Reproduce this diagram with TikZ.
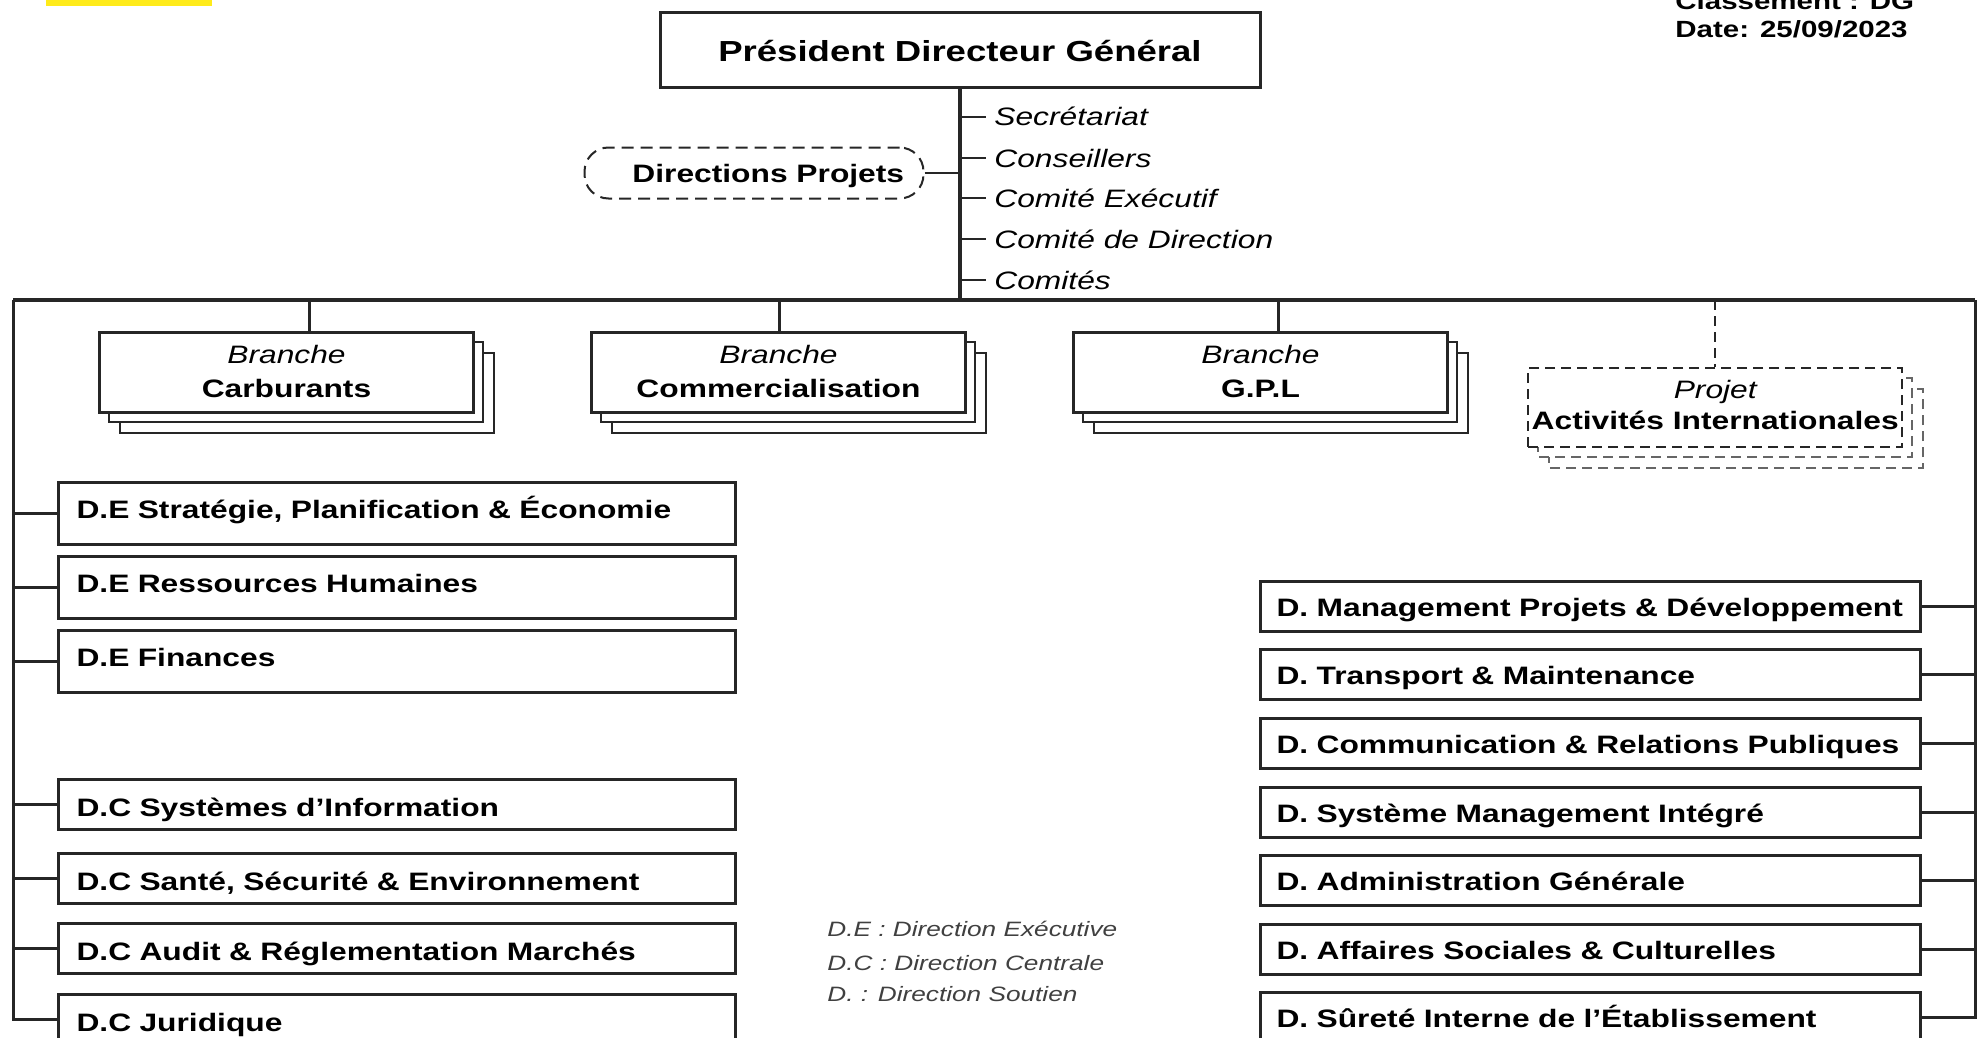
\documentclass[tikz,border=0pt]{standalone}
\usepackage{fontspec}
\setmainfont{Liberation Sans}[FakeStretch=1.26]
\usetikzlibrary{calc}

\colorlet{ink}{black!85}
\definecolor{markyellow}{RGB}{255,235,26}

\newcommand\boxfont{\fontsize{12.6pt}{15pt}\selectfont\bfseries}
\newcommand\lblfont{\fontsize{12.6pt}{15pt}\selectfont\itshape}

\tikzset{
  link/.style={draw=ink, line width=1.5pt},
  busline/.style={draw=ink, line width=1.8pt},
  tick/.style={draw=ink, line width=1.4pt},
  pdgbox/.style={draw=ink, line width=1.5pt, fill=white, inner sep=0pt,
    minimum width=300pt, text height=24.5pt, text depth=13pt,
    font=\fontsize{14.5pt}{17pt}\selectfont\bfseries},
  hdr/.style={inner sep=0pt, font=\fontsize{11.7pt}{14pt}\selectfont\bfseries},
  sidelbl/.style={anchor=west, inner xsep=4pt, inner ysep=0pt,
    text height=9pt, text depth=0pt, font=\lblfont},
  dashround/.style={draw=ink, line width=1pt, dash pattern=on 6pt off 3.5pt,
    rounded corners=12pt, fill=white, inner sep=0pt},
  branchbox/.style={draw=ink, line width=1.5pt, fill=white, inner sep=0pt,
    minimum width=187pt, minimum height=40pt},
  layerbox/.style={draw=ink, line width=1.4pt, fill=white},
  projbox/.style={draw=ink, line width=1.2pt, dash pattern=on 5pt off 3pt,
    fill=white, inner sep=0pt, minimum width=187pt, minimum height=39.5pt},
  projlayer/.style={draw=black!60, line width=1.2pt, dash pattern=on 5pt off 3pt,
    fill=white},
  brtitle/.style={inner sep=0pt, font=\lblfont},
  brname/.style={inner sep=0pt, font=\boxfont},
  leftE/.style={draw=ink, line width=1.5pt, fill=white, anchor=north west,
    inner xsep=9pt, inner ysep=0pt, text width=320.5pt, align=left,
    text height=18pt, text depth=13pt, font=\boxfont},
  leftC/.style={leftE, text height=18.5pt, text depth=6.5pt},
  rightD/.style={draw=ink, line width=1.5pt, fill=white, anchor=north west,
    inner xsep=8pt, inner ysep=0pt, text width=314pt, align=left,
    text height=17.5pt, text depth=7.5pt, font=\boxfont},
  legend/.style={inner sep=0pt, anchor=base west, text=black!75,
    font=\fontsize{10.4pt}{12pt}\selectfont\itshape},
}

% a branch drawn as three stacked sheets, the front one named #1
\newcommand\branchstack[4]{%
  \draw[layerbox] (#2+22,#3+22) rectangle ++(374,80);
  \draw[layerbox] (#2+11,#3+11) rectangle ++(374,80);
  \node[branchbox, anchor=north west] (#1) at (#2,#3) {};
  \node[brtitle, anchor=base] (#1-t) at ($(#1.north)+(0,32)$) {Branche};
  \node[brname, anchor=base] (#1-n) at ($(#1.north)+(0,66)$) {#4};
}

\begin{document}
\begin{tikzpicture}[x=0.5pt,y=-0.5pt]
\useasboundingbox (0,0) rectangle (1980,1038);
\clip (0,0) rectangle (1980,1038);

\fill[markyellow] (46,0) rectangle (212,6);

% header
\node[hdr, anchor=base west] (cls) at (1675,10) {Classement : DG};
\node[hdr, anchor=base west] (date) at (1675,38) {Date: 25/09/2023};

% head of the organisation and its trunk
\node[pdgbox, anchor=north] (pdg) at (960,11) {Président Directeur Général};
\coordinate (trunk) at (960,300);
\draw[busline] (pdg.south) -- (trunk);

% staff attached to the trunk
\node[sidelbl] (sec) at (986,117) {Secrétariat};
\node[sidelbl] (cons) at (986,158) {Conseillers};
\node[sidelbl] (cex) at (986,198) {Comité Exécutif};
\node[sidelbl] (cdir) at (986,239) {Comité de Direction};
\node[sidelbl] (coms) at (986,280) {Comités};
\foreach \n in {sec,cons,cex,cdir,coms}
  \draw[tick] (\n.west -| trunk) -- (\n.west);

\node[dashround, minimum width=169.5pt, minimum height=25.5pt] (dirp) at (754,173) {};
\node[brname, anchor=base west] (dirpt) at (632,182) {Directions Projets};
\draw[tick] (dirp.east) -- (dirp.east -| trunk);

% main bus
\coordinate (busL) at (13,300);
\coordinate (busR) at (1975,300);
\draw[busline] (busL) -- (busR);

% branches
\branchstack{carb}{98}{331}{Carburants}
\branchstack{comm}{590}{331}{Commercialisation}
\branchstack{gpl}{1072}{331}{G.P.L}
\coordinate (bk1) at (309,300);
\coordinate (bk2) at (779,300);
\coordinate (bk3) at (1278,300);
\draw[link] (bk1) -- (bk1 |- carb.north);
\draw[link] (bk2) -- (bk2 |- comm.north);
\draw[link] (bk3) -- (bk3 |- gpl.north);

% project sheets
\draw[projlayer] (1549,389) rectangle ++(374,79);
\draw[projlayer] (1538,378) rectangle ++(374,79);
\node[projbox, anchor=north west] (proj) at (1527,367) {};
\node[brtitle, anchor=base] (proj-t) at ($(proj.north)+(0,31)$) {Projet};
\node[brname, anchor=base] (proj-n) at ($(proj.north)+(0,62)$) {Activités Internationales};
\draw[draw=ink, line width=1.2pt, dash pattern=on 5pt off 3pt] (proj.north |- busL) -- (proj.north);

% left column
\node[leftE] (L1) at (57,481) {D.E Stratégie, Planification \& Économie};
\node[leftE] (L2) at (57,555) {D.E Ressources Humaines};
\node[leftE] (L3) at (57,629) {D.E Finances};
\node[leftC] (L4) at (57,778) {D.C Systèmes d’Information};
\node[leftC] (L5) at (57,852) {D.C Santé, Sécurité \& Environnement};
\node[leftC] (L6) at (57,922) {D.C Audit \& Réglementation Marchés};
\node[leftC] (L7) at (57,993) {D.C Juridique};
\foreach \n in {L1,L2,L3,L4,L5,L6,L7}
  \draw[link] (busL) |- (\n.west);

% right column
\node[rightD] (R1) at (1259,580) {D. Management Projets \& Développement};
\node[rightD] (R2) at (1259,648) {D. Transport \& Maintenance};
\node[rightD] (R3) at (1259,717) {D. Communication \& Relations Publiques};
\node[rightD] (R4) at (1259,786) {D. Système Management Intégré};
\node[rightD] (R5) at (1259,854) {D. Administration Générale};
\node[rightD] (R6) at (1259,923) {D. Affaires Sociales \& Culturelles};
\node[rightD] (R7) at (1259,991) {D. Sûreté Interne de l’Établissement};
\foreach \n in {R1,R2,R3,R4,R5,R6,R7}
  \draw[link] (busR) |- (\n.east);

% abbreviations
\node[legend] (lg1) at (827,936) {D.E : Direction Exécutive};
\node[legend] (lg2) at (827,970) {D.C : Direction Centrale};
\node[legend] (lg3) at (827,1001) {D. : Direction Soutien};
\end{tikzpicture}
\end{document}
